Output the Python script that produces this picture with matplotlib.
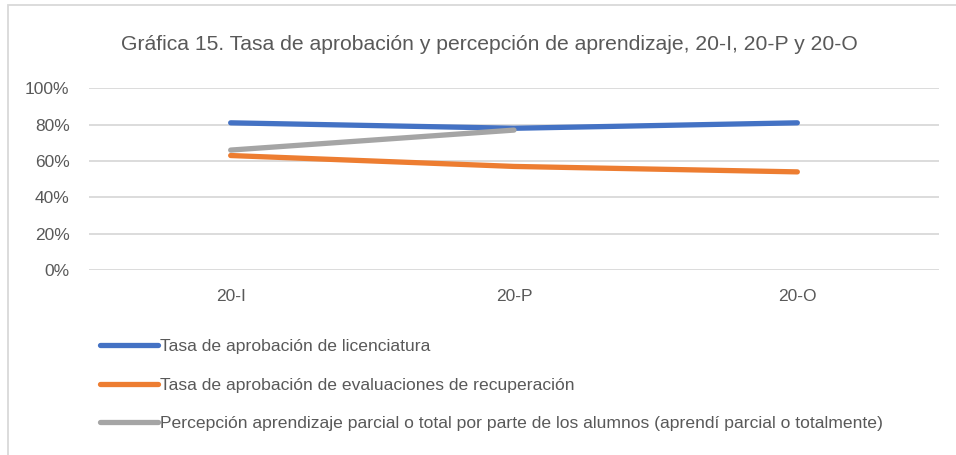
import matplotlib
matplotlib.use("Agg")
import matplotlib.pyplot as plt
from matplotlib.patches import Rectangle
from matplotlib.ticker import FuncFormatter

plt.rcParams['font.family'] = ['Liberation Sans', 'DejaVu Sans']

categories = ['20-I', '20-P', '20-O']
licenciatura = [81, 78, 81]
recuperacion = [63, 57, 54]
percepcion = [66, 77]
series_names = [
    'Tasa de aprobación de licenciatura',
    'Tasa de aprobación de evaluaciones de recuperación',
    'Percepción aprendizaje parcial o total por parte de los alumnos (aprendí parcial o totalmente)',
]
colors = ['#4472C4', '#ED7D31', '#A5A5A5']
title = 'Gráfica 15. Tasa de aprobación y percepción de aprendizaje, 20-I, 20-P y 20-O'
text_color = '#595959'

fig = plt.figure(figsize=(9.56, 4.55), dpi=100)
ax = fig.add_axes([89/956, 185/455, (939-89)/956, (366.7-185)/455])

x = list(range(len(categories)))
lw = 3.8
lines = []
for vals, c, name in zip([licenciatura, recuperacion, percepcion], colors, series_names):
    ln, = ax.plot(x[:len(vals)], vals, color=c, lw=lw, solid_capstyle='round',
                  solid_joinstyle='round', label=name, zorder=3)
    lines.append(ln)

ax.set_xlim(-0.5, len(categories) - 0.5)
ax.set_ylim(0, 100)
ax.set_yticks(range(0, 101, 20))
ax.yaxis.set_major_formatter(FuncFormatter(lambda v, p: f'{int(v)}%'))
ax.set_xticks(x)
ax.set_xticklabels(categories)
ax.grid(axis='y', color='#D9D9D9', lw=1.3)
ax.set_axisbelow(True)
for s in ax.spines.values():
    s.set_visible(False)
ax.tick_params(length=0, labelsize=12.5, colors=text_color)
ax.tick_params(axis='y', pad=14)
ax.tick_params(axis='x', pad=14)

fig.text(489/956, 1 - 45/455, title, ha='center', va='center', fontsize=15.2, color=text_color)

leg = fig.legend(handles=lines, loc='upper left', bbox_to_anchor=(100/956, 1 - 339/455),
                 frameon=False, fontsize=12.6, labelcolor=text_color, handlelength=3.3,
                 handletextpad=0.15, labelspacing=1.33, borderaxespad=0, borderpad=0)

# chart border (left and top visible)
fig.patches.append(Rectangle((8/956, -0.1), 1.1, 1 - 5/455 + 0.1, transform=fig.transFigure,
                             fill=False, edgecolor='#D9D9D9', lw=1.3))

fig.savefig('out.png', dpi=100)
